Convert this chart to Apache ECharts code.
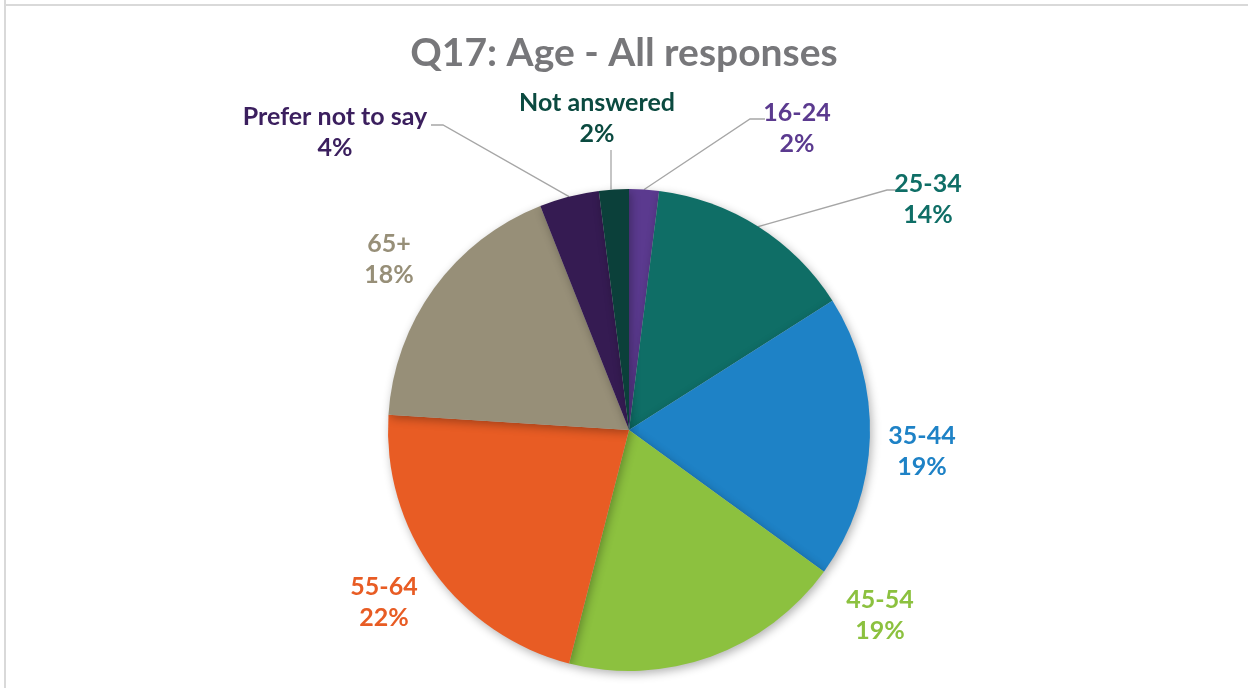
<!DOCTYPE html>
<html>
<head>
<meta charset="utf-8">
<title>Q17: Age - All responses</title>
<script src="https://cdn.jsdelivr.net/npm/echarts@6/dist/echarts.min.js"></script>
<style>
  html, body { margin: 0; padding: 0; background: #ffffff; }
  #chart { width: 1248px; height: 688px; }
</style>
</head>
<body>
<div id="chart"></div>
<script>
// Age groups of all respondents and their share (%)
var categories = ['16-24', '25-34', '35-44', '45-54', '55-64', '65+', 'Prefer not to say', 'Not answered'];
var shares = [2, 14, 19, 19, 22, 18, 4, 2];
var sliceColors = ['#5b3a8f', '#0f6e66', '#1e82c6', '#8cc13f', '#e85c24', '#978f78', '#351b52', '#0b403a'];
var labelColors = ['#5b3a8f', '#0f6e66', '#1e82c6', '#8cc13f', '#e85c24', '#978f78', '#3b1f5e', '#0b4a40'];

// Where each label sits (centre of its two lines) and its leader line, if any
var labelSpots = [[797, 128], [928, 199], [922, 451], [880, 615], [384, 602], [389, 259], [335, 132], [597, 118]];
var leaders = [
  [[750, 119], [765, 119]],
  [[887, 190], [898, 190]],
  null, null, null, null,
  [[443, 125], [431, 125]],
  [[611, 150]]
];

var chart = echarts.init(document.getElementById('chart'), null, { renderer: 'canvas' });

var data = categories.map(function (name, i) {
  return {
    name: name,
    value: shares[i],
    itemStyle: { color: sliceColors[i] },
    label: { color: labelColors[i] },
    labelLine: { show: !!leaders[i] }
  };
});

chart.setOption({
  animation: false,
  title: {
    text: 'Q17: Age - All responses',
    left: 'center',
    top: 29,
    textStyle: { fontFamily: 'Lato', fontWeight: 'bold', fontSize: 39, color: '#77777a' }
  },
  graphic: [
    { type: 'line', shape: { x1: 5, y1: 0, x2: 5, y2: 688 }, style: { stroke: '#d9d9d9', lineWidth: 2 } },
    { type: 'line', shape: { x1: 4, y1: 5, x2: 1248, y2: 5 }, style: { stroke: '#d9d9d9', lineWidth: 2 } }
  ],
  series: [{
    type: 'pie',
    center: [629, 430],
    radius: 241,
    startAngle: 90,
    clockwise: true,
    data: data,
    itemStyle: {
      shadowBlur: 10,
      shadowOffsetX: 2,
      shadowOffsetY: 3,
      shadowColor: 'rgba(0,0,0,0.3)'
    },
    label: {
      show: true,
      position: 'outside',
      formatter: '{b}\n{c}%',
      fontFamily: 'Lato',
      fontWeight: 'bold',
      fontSize: 25,
      lineHeight: 31,
      align: 'center'
    },
    labelLine: {
      show: true,
      length: 20,
      length2: 10,
      smooth: false,
      lineStyle: { color: '#a6a6a6', width: 1.3 }
    },
    emphasis: { disabled: true },
    labelLayout: function (params) {
      var i = params.dataIndex;
      var spot = labelSpots[i];
      var out = {
        x: spot[0],
        y: spot[1],
        align: 'center',
        verticalAlign: 'middle'
      };
      if (leaders[i] && params.labelLinePoints) {
        var start = params.labelLinePoints[0];
        out.labelLinePoints = [start].concat(leaders[i]);
        if (leaders[i].length === 1) {
          // vertical leader straight up from the slice edge
          out.labelLinePoints = [[leaders[i][0][0], start[1]], leaders[i][0]];
        }
      }
      return out;
    }
  }]
});
</script>
</body>
</html>
